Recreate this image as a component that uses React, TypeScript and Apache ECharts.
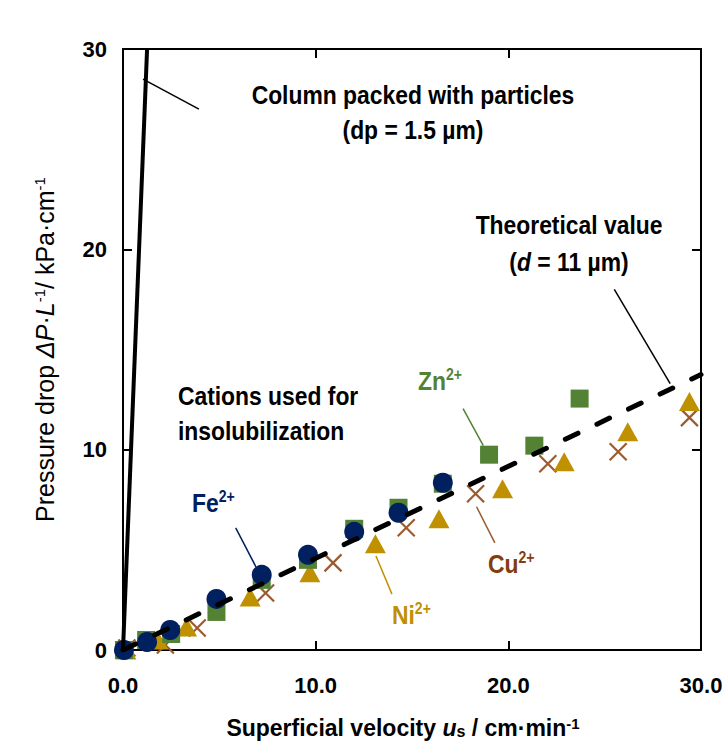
import { useEffect, useRef } from "react";
import * as echarts from "echarts";

const FONT = "'Liberation Sans', Arial, sans-serif";
// Condensed look for the annotation texts
const NARROW = 0.88;

// Measured pressure drop (kPa/cm) against superficial velocity (cm/min),
// one pair of arrays per cation used for insolubilization.
const feVelocity = [0.05, 1.25, 2.45, 4.85, 7.2, 9.6, 12.0, 14.3, 16.6];
const fePressure = [0.0, 0.4, 1.0, 2.55, 3.75, 4.75, 5.9, 6.85, 8.35];

const znVelocity = [0.05, 1.2, 2.5, 4.85, 7.2, 9.6, 12.0, 14.3, 16.6, 19.0, 21.35, 23.7];
const znPressure = [0.0, 0.5, 0.8, 1.9, 3.5, 4.5, 6.05, 7.1, 8.3, 9.75, 10.2, 12.55];

const niVelocity = [0.15, 1.8, 3.3, 6.6, 9.7, 13.1, 16.4, 19.7, 22.9, 26.2, 29.4];
const niPressure = [0.0, 0.5, 1.15, 2.65, 3.85, 5.3, 6.55, 8.05, 9.4, 10.9, 12.4];

const cuVelocity = [0.2, 2.2, 3.85, 7.4, 10.9, 14.7, 18.3, 22.05, 25.7, 29.4];
const cuPressure = [0.1, 0.25, 1.1, 2.85, 4.35, 6.1, 7.8, 9.3, 9.9, 11.6];

// Theoretical line for d = 11 µm and the particle-packed column (dp = 1.5 µm)
const theoreticalVelocity = [0, 30];
const theoreticalPressure = [0, 13.75];
const packedVelocity = [0, 1.25];
const packedPressure = [0, 30];

const xTickValues = [0, 10, 20, 30];
const yTickValues = [0, 10, 20, 30];

const COLORS = {
  fe: "#002060",
  zn: "#548235",
  ni: "#BF9000",
  cu: "#9C5B2E",
  cuText: "#843C0C",
  ink: "#000000",
};

// Leader lines from the annotations to the curves (data coordinates)
const leaders = [
  { color: COLORS.ink, from: [1.04, 28.5], to: [3.94, 27.0] },
  { color: COLORS.ink, from: [25.5, 18.0], to: [28.4, 13.3] },
  { color: COLORS.fe, from: [5.85, 6.1], to: [6.9, 4.15] },
  { color: COLORS.zn, from: [17.65, 12.05], to: [18.7, 10.2] },
  { color: COLORS.ni, from: [13.13, 4.69], to: [13.96, 2.79] },
  { color: COLORS.cu, from: [18.35, 7.15], to: [19.3, 5.35] },
];

const zip = (xs: number[], ys: number[]) => xs.map((x, i) => [x, ys[i]]);

export default function App() {
  const ref = useRef<HTMLDivElement>(null);

  useEffect(() => {
    if (!ref.current) return;
    const chart = echarts.init(ref.current, null, { renderer: "svg" });

    const axisLine = { show: true, onZero: false, lineStyle: { color: COLORS.ink, width: 2 } };
    const axisTick = { show: true, inside: true, length: 9, lineStyle: { color: COLORS.ink, width: 2 } };

    const leaderSeries = leaders.map((l) => ({
      type: "line",
      data: [l.from, l.to],
      symbol: "none",
      silent: true,
      lineStyle: { color: l.color, width: 1.5 },
      z: 4,
    }));

    chart.setOption({
      animation: false,
      backgroundColor: "#ffffff",
      grid: { left: 123, right: 27, top: 49, bottom: 102, containLabel: false },
      xAxis: [
        {
          type: "value",
          position: "bottom",
          min: 0,
          max: 30,
          interval: 10,
          axisLine,
          axisTick,
          splitLine: { show: false },
          axisLabel: {
            color: COLORS.ink,
            fontSize: 22,
            fontWeight: "bold",
            fontFamily: FONT,
            margin: 24,
            formatter: (v: number) => (xTickValues.includes(v) ? v.toFixed(1) : ""),
          },
          name: "{b|Superficial velocity }{i|u}{sub|s}{b| / cm·min}{sup|-1}",
          nameLocation: "middle",
          nameGap: 66,
          nameTextStyle: {
            padding: [0, 18, 0, 0],
            rich: {
              b: { fontSize: 23, fontWeight: "bold", fontFamily: FONT, color: COLORS.ink },
              i: { fontSize: 23, fontWeight: "bold", fontStyle: "italic", fontFamily: FONT, color: COLORS.ink },
              sub: { fontSize: 16, fontWeight: "bold", fontFamily: FONT, color: COLORS.ink, verticalAlign: "bottom" },
              sup: { fontSize: 15, fontWeight: "bold", fontFamily: FONT, color: COLORS.ink, verticalAlign: "top" },
            },
          },
        },
        {
          type: "value",
          position: "top",
          min: 0,
          max: 30,
          interval: 10,
          axisLine,
          axisTick,
          axisLabel: { show: false },
          splitLine: { show: false },
        },
      ],
      yAxis: [
        {
          type: "value",
          position: "left",
          min: 0,
          max: 30,
          interval: 10,
          axisLine,
          axisTick,
          splitLine: { show: false },
          axisLabel: {
            color: COLORS.ink,
            fontSize: 22,
            fontWeight: "bold",
            fontFamily: FONT,
            margin: 16,
            formatter: (v: number) => (yTickValues.includes(v) ? String(v) : ""),
          },
          name: "{n|Pressure drop }{i|ΔP}{n|·}{i|L}{sup|-1}{n|/ kPa·cm}{sup|-1}",
          nameLocation: "middle",
          nameRotate: 90,
          nameGap: 66,
          nameTextStyle: {
            rich: {
              n: { fontSize: 25, fontFamily: FONT, color: COLORS.ink },
              i: { fontSize: 25, fontStyle: "italic", fontFamily: FONT, color: COLORS.ink },
              sup: { fontSize: 15, fontFamily: FONT, color: COLORS.ink, verticalAlign: "top" },
            },
          },
        },
        {
          type: "value",
          position: "right",
          min: 0,
          max: 30,
          interval: 10,
          axisLine,
          axisTick,
          axisLabel: { show: false },
          splitLine: { show: false },
        },
      ],
      series: [
        {
          name: "Cu2+",
          type: "scatter",
          data: zip(cuVelocity, cuPressure),
          symbol: "path://M0,0L20,20M20,0L0,20",
          symbolSize: 17,
          itemStyle: { color: "rgba(0,0,0,0)", borderColor: COLORS.cu, borderWidth: 2.2, opacity: 1 },
          z: 2,
        },
        {
          name: "Ni2+",
          type: "scatter",
          data: zip(niVelocity, niPressure),
          symbol: "triangle",
          symbolSize: [21, 19],
          itemStyle: { color: COLORS.ni, opacity: 1 },
          z: 2,
        },
        {
          name: "Zn2+",
          type: "scatter",
          data: zip(znVelocity, znPressure),
          symbol: "rect",
          symbolSize: 18,
          itemStyle: { color: COLORS.zn, opacity: 1 },
          z: 2,
        },
        {
          name: "Fe2+",
          type: "scatter",
          data: zip(feVelocity, fePressure),
          symbol: "circle",
          symbolSize: 20,
          itemStyle: { color: COLORS.fe, opacity: 1 },
          z: 2,
        },
        {
          name: "Theoretical value",
          type: "line",
          data: zip(theoreticalVelocity, theoreticalPressure),
          symbol: "none",
          silent: true,
          lineStyle: { color: COLORS.ink, width: 5, type: [14, 21], cap: "round" },
          z: 3,
        },
        {
          name: "Column packed with particles",
          type: "line",
          data: zip(packedVelocity, packedPressure),
          symbol: "none",
          silent: true,
          lineStyle: { color: COLORS.ink, width: 4 },
          z: 3,
        },
        ...leaderSeries,
      ],
    });

    const px = (x: number, y: number) =>
      chart.convertToPixel({ xAxisIndex: 0, yAxisIndex: 0 }, [x, y]) as number[];

    const tok = (size: number, color: string, extra: Record<string, unknown> = {}) => ({
      fontSize: size,
      fontWeight: "bold",
      fontFamily: FONT,
      fill: color,
      ...extra,
    });

    const label = (
      at: number[],
      text: string,
      align: string,
      color: string,
      rich: Record<string, unknown>
    ) => {
      const [x, y] = px(at[0], at[1]);
      return {
        type: "text",
        z: 10,
        x,
        y,
        scaleX: NARROW,
        style: {
          x: 0,
          y: 0,
          text,
          align,
          verticalAlign: "middle",
          fill: color,
          fontSize: 26,
          fontWeight: "bold",
          fontFamily: FONT,
          rich,
        },
      };
    };

    const plain = (color: string, lh: number) => ({ m: tok(26, color, { lineHeight: lh }) });
    const ionRich = (color: string) => ({
      m: tok(26, color, { lineHeight: 30 }),
      s: tok(16, color, { verticalAlign: "top" }),
    });

    chart.setOption({
      graphic: [
        label([15.05, 26.85], "{m|Column packed with particles}\n{m|(dp = 1.5 µm)}", "center", COLORS.ink, plain(COLORS.ink, 35)),
        label([23.15, 20.3], "{m|Theoretical value}\n{m|(}{i|d}{m| = 11 µm)}", "center", COLORS.ink, {
          m: tok(26, COLORS.ink, { lineHeight: 37 }),
          i: tok(26, COLORS.ink, { lineHeight: 37, fontStyle: "italic" }),
        }),
        label([2.85, 11.81], "{m|Cations used for}\n{m|insolubilization}", "left", COLORS.ink, plain(COLORS.ink, 35)),
        label([15.31, 13.43], "{m|Zn}{s|2+}", "left", COLORS.zn, ionRich(COLORS.zn)),
        label([3.58, 7.34], "{m|Fe}{s|2+}", "left", COLORS.fe, ionRich(COLORS.fe)),
        label([13.96, 1.75], "{m|Ni}{s|2+}", "left", COLORS.ni, ionRich(COLORS.ni)),
        label([18.94, 4.3], "{m|Cu}{s|2+}", "left", COLORS.cuText, ionRich(COLORS.cuText)),
      ],
    });

    return () => chart.dispose();
  }, []);

  return (
    <div
      ref={ref}
      style={{ position: "absolute", left: 0, top: 0, width: 728, height: 752, background: "#fff" }}
    />
  );
}
